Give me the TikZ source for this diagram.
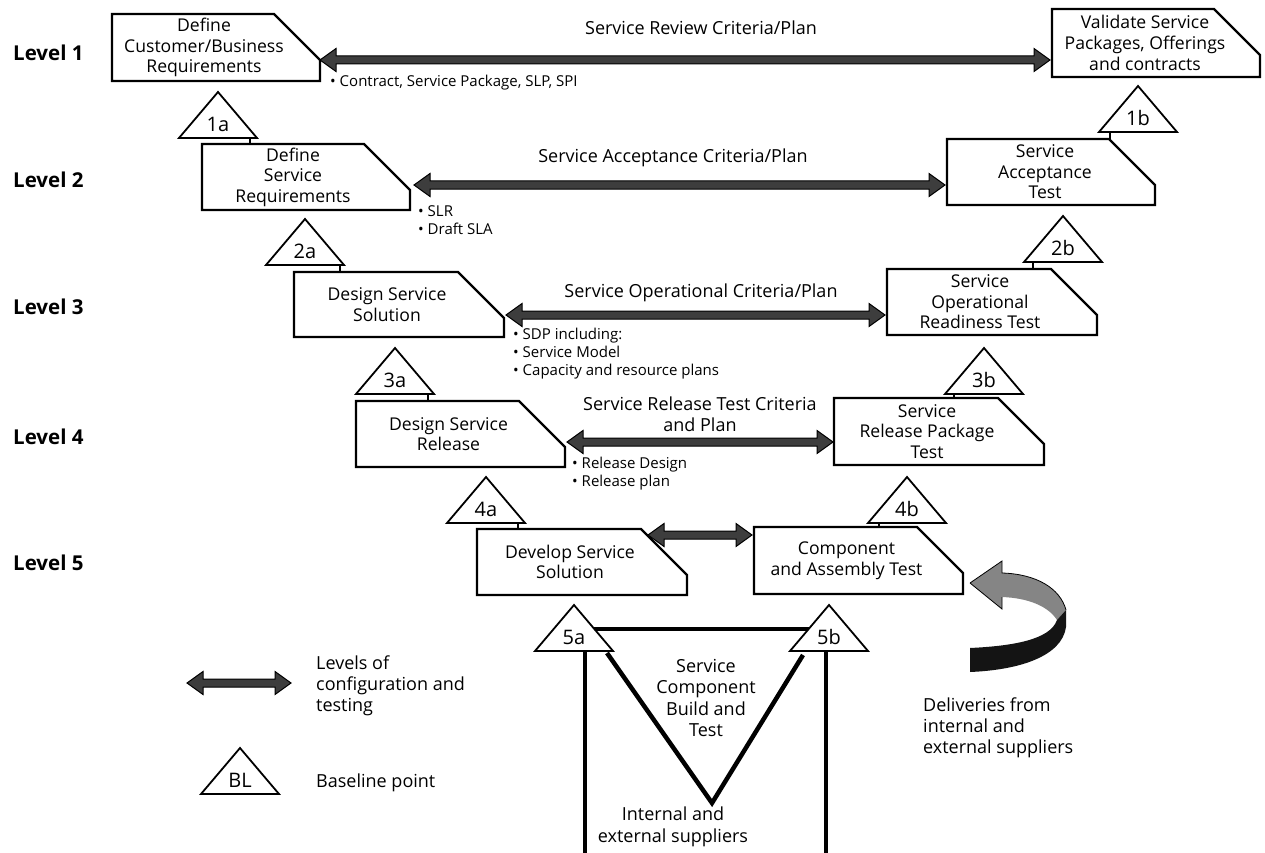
\documentclass[tikz,border=0pt]{standalone}
\usepackage{fontspec}
\setmainfont{Open Sans}
\usetikzlibrary{calc}

% Cut-corner stage box: name, left, top, right, bottom, text shift, text
\newcommand\stagebox[7]{%
  \draw[stageline] (#2,#3) -- (#4-46,#3) -- (#4,#3+46) -- (#4,#5) -- (#2,#5) -- cycle;
  \coordinate (#1-cut) at (#4,#3+46);
  \coordinate (#1-west) at (#2,{(#3+#5)/2});
  \node[stagetext] (#1) at ({(#2+#4)/2+#6},{(#3+#5)/2}) {#7};
}

% Baseline triangle: name, apex x, apex y, label
\newcommand\blpoint[4]{%
  \draw[blline] (#2,#3) -- (#2+39,#3+46) -- (#2-39,#3+46) -- cycle;
  \node[bltext] (#1) at (#2,#3+32) {#4};
}

% Double-headed level arrow between two points (optional shaft half width)
\newcommand\levelarrow[3][4]{%
  \path[levelarrow] let \p1=(#2), \p2=(#3) in
    (\x1,\y1) -- (\x1+16pt,\y1+11.5pt) -- (\x1+16pt,\y1+#1pt)
    -- (\x2-16pt,\y1+#1pt) -- (\x2-16pt,\y1+11.5pt) -- (\x2,\y1)
    -- (\x2-16pt,\y1-11.5pt) -- (\x2-16pt,\y1-#1pt)
    -- (\x1+16pt,\y1-#1pt) -- (\x1+16pt,\y1-11.5pt) -- cycle;
}

\tikzset{
  stageline/.style={draw=black, line width=2.2pt, fill=white, line join=miter},
  stagetext/.style={align=center, inner sep=0pt, font=\fontsize{17.6}{20.6}\selectfont},
  blline/.style={draw=black, line width=1.8pt, fill=white, line join=miter},
  bltext/.style={inner sep=0pt, font=\fontsize{20}{22}\selectfont},
  levelarrow/.style={fill=black!76, draw=black, line width=1pt, line join=miter},
  leveltag/.style={anchor=west, inner sep=0pt, font=\bfseries\fontsize{20.5}{22}\selectfont},
  criteria/.style={align=center, inner sep=0pt, font=\fontsize{18}{21.5}\selectfont},
  notes/.style={align=left, anchor=west, inner sep=0pt, font=\fontsize{15}{18}\selectfont},
  legendtext/.style={align=left, anchor=west, inner sep=0pt, font=\fontsize{18}{21}\selectfont},
  frame/.style={line width=4.5pt, line cap=butt, line join=miter},
  stub/.style={line width=2.2pt},
}

\begin{document}
\begin{tikzpicture}[x=1pt, y=-1pt]
\useasboundingbox (0,0) rectangle (1265,853);
\fill[white] (0,0) rectangle (1265,853);

% Level labels
\node[leveltag] (lv1) at (13,53)  {Level 1};
\node[leveltag] (lv2) at (13,180) {Level 2};
\node[leveltag] (lv3) at (13,307) {Level 3};
\node[leveltag] (lv4) at (13,437) {Level 4};
\node[leveltag] (lv5) at (13,563) {Level 5};

% Left-hand (definition) stages
\stagebox{b1a}{112}{14}{320}{81}{-12}{Define\\Customer/Business\\Requirements}
\stagebox{b2a}{202}{144}{410}{210}{-13}{Define\\Service\\Requirements}
\stagebox{b3a}{294}{272}{504}{337}{-12}{Design Service\\Solution}
\stagebox{b4a}{356}{401}{565}{467}{-12}{Design Service\\Release}
\stagebox{b5a}{477}{529}{687}{595}{-12}{Develop Service\\Solution}

% Right-hand (testing) stages
\stagebox{b1b}{1052}{9}{1260}{77}{-11}{Validate Service\\Packages, Offerings\\and contracts}
\stagebox{b2b}{947}{139}{1155}{205}{-6}{Service\\Acceptance\\Test}
\stagebox{b3b}{887}{269}{1097}{335}{-12}{Service\\Operational\\Readiness Test}
\stagebox{b4b}{834}{398}{1044}{465}{-12}{Service\\Release Package\\Test}
\stagebox{b5b}{754}{527}{963}{594}{-12}{Component\\and Assembly Test}

% Arrow ends on the facing box edges
\coordinate (e1) at (1050,60);
\coordinate (s2) at (414,185);
\coordinate (e2) at (945,185);
\coordinate (s3) at (506,315);
\coordinate (e3) at (885,315);
\coordinate (s4) at (567,442);
\coordinate (e4) at (833,442);
\coordinate (s5) at (648,535);
\coordinate (e5) at (752,535);

\levelarrow{b1a-cut}{e1}
\levelarrow{s2}{e2}
\levelarrow{s3}{e3}
\levelarrow{s4}{e4}
\levelarrow{s5}{e5}

% Criteria labels above the arrows
\node[criteria] (c1) at (701,28)  {Service Review Criteria/Plan};
\node[criteria] (c2) at (673,158) {Service Acceptance Criteria/Plan};
\node[criteria] (c3) at (701,293) {Service Operational Criteria/Plan};
\node[criteria] (c4) at (700,414) {Service Release Test Criteria\\and Plan};

% Deliverables under the left-hand stages
\node[notes] (n1) at (330,83)  {• Contract, Service Package, SLP, SPI};
\node[notes] (n2) at (418,220) {• SLR\\• Draft SLA};
\node[notes] (n3) at (513,354) {• SDP including:\\• Service Model\\• Capacity and resource plans};
\node[notes] (n4) at (572,474) {• Release Design\\• Release plan};

% Service component build and test
\draw[frame] (585,652) -- (585,860);
\draw[frame] (826,652) -- (826,860);
\draw[frame] (573,629) -- (830,629);
\draw[frame] (607,653) -- (712,803) -- (803,655);
\node[criteria] (sc) at (706,698) {Service\\Component\\Build and\\Test};
\node[criteria] (ie) at (673,827) {Internal and\\external suppliers};

% Baseline points
\blpoint{t1a}{218}{92}{1a}
\blpoint{t2a}{305}{219}{2a}
\blpoint{t3a}{395}{348}{3a}
\blpoint{t4a}{486}{477}{4a}
\blpoint{t5a}{574}{605}{5a}
\blpoint{t1b}{1138}{86}{1b}
\blpoint{t2b}{1063}{216}{2b}
\blpoint{t3b}{984}{348}{3b}
\blpoint{t4b}{907}{477}{4b}
\blpoint{t5b}{829}{605}{5b}

% Short links from baseline points to the next stage
\draw[stub] (250,137) -- (250,144);
\draw[stub] (340,265) -- (340,272);
\draw[stub] (428,394) -- (428,401);
\draw[stub] (518,523) -- (518,529);
\draw[stub] (1110,132) -- (1110,139);
\draw[stub] (1033,262) -- (1033,269);
\draw[stub] (954,394) -- (954,398);
\draw[stub] (879,523) -- (879,527);

% Deliveries arrow curling back towards component test
\fill[black!48] (970,583) -- (1002,561) -- (1002,573)
  .. controls (1036,574) and (1060,588) .. (1066,610)
  -- (1057,620)
  .. controls (1048,606) and (1028,598) .. (1002,597)
  -- (1002,609) -- cycle;
\draw[line width=0.8pt] (970,583) -- (1002,561) -- (1002,573)
  .. controls (1036,574) and (1060,588) .. (1066,610);
\draw[line width=0.8pt] (1002,597) -- (1002,609) -- (970,583);
\fill[black!92] (1066,610) -- (1066,627)
  .. controls (1062,656) and (1020,670) .. (970,672)
  -- (970,648)
  .. controls (1012,646) and (1050,640) .. (1057,620) -- cycle;
\node[legendtext] (dl) at (923,728) {Deliveries from\\internal and\\external suppliers};

% Legend
\coordinate (k1) at (187,683);
\coordinate (k2) at (291,683);
\levelarrow{k1}{k2}
\node[legendtext] (kt1) at (316,686) {Levels of\\configuration and\\testing};
\blpoint{kbl}{240}{748}{BL}
\node[legendtext] (kt2) at (316,783) {Baseline point};
\end{tikzpicture}
\end{document}
